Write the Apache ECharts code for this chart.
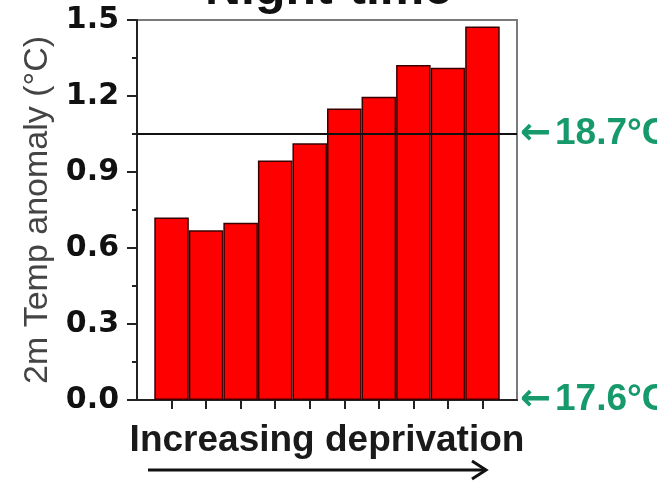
<!DOCTYPE html>
<html>
<head>
<meta charset="utf-8">
<script src="https://cdn.jsdelivr.net/npm/echarts@6/dist/echarts.min.js"></script>
<style>html,body{margin:0;padding:0;background:#fff}#c{width:657px;height:487px}</style>
</head>
<body>
<div id="c"></div>
<script>
// ---- data ----
const groups = [1, 2, 3, 4, 5, 6, 7, 8, 9, 10];
const anomaly = [0.72, 0.67, 0.70, 0.945, 1.013, 1.151, 1.197, 1.322, 1.312, 1.474];
const refValues = [1.054, 0];
const refLabels = ['18.7\u00b0C', '17.6\u00b0C'];
const yTicks = [0, 0.3, 0.6, 0.9, 1.2, 1.5];
const titleText = 'Night-time';
const yName = '2m Temp anomaly (\u00b0C)';
const xName = 'Increasing deprivation';

const chart = echarts.init(document.getElementById('c'), null, {renderer: 'canvas'});
const FONT = 'Liberation Sans, Arial, sans-serif';
const DJ = 'DejaVu Sans, sans-serif';
const green = '#179a6b';
const gridL = 137, gridR = 140, gridT = 20, gridB = 87;
const plotW = 657 - gridL - gridR;
const xMin = 0, xMax = groups.length + 1;
const bandW = plotW / (xMax - xMin);

const option = {
  backgroundColor: '#fff',
  animation: false,
  grid: {left: gridL, right: gridR, top: gridT, bottom: gridB, show: true, borderColor: '#7a7a7a', borderWidth: 2},
  xAxis: {
    type: 'value', min: xMin, max: xMax, interval: 1,
    name: xName, nameLocation: 'middle', nameGap: 22,
    nameTextStyle: {fontFamily: FONT, fontWeight: 'bold', fontSize: 37, color: '#1a1a1a', verticalAlign: 'top'},
    axisLine: {show: true, onZero: false, lineStyle: {color: '#222', width: 2}},
    axisTick: {show: true, inside: false, length: 9, customValues: groups, lineStyle: {color: '#222', width: 2}},
    axisLabel: {show: false},
    splitLine: {show: false}
  },
  yAxis: {
    type: 'value', min: yTicks[0], max: yTicks[yTicks.length - 1], interval: 0.3,
    name: yName, nameLocation: 'middle', nameGap: 78, nameRotate: 90,
    nameTextStyle: {fontFamily: FONT, fontSize: 34, color: '#444'},
    axisLine: {show: true, lineStyle: {color: '#222', width: 2}},
    axisTick: {show: true, inside: false, length: 10, lineStyle: {color: '#222', width: 2}},
    minorTick: {show: true, splitNumber: 2, length: 5, lineStyle: {color: '#222', width: 2}},
    axisLabel: {fontFamily: DJ, fontWeight: 'bold', fontSize: 30, color: '#111', margin: 18,
      formatter: v => v.toFixed(1)},
    splitLine: {show: false}
  },
  series: [{
    type: 'bar',
    data: groups.map((g, i) => [g, anomaly[i]]),
    barWidth: bandW,
    itemStyle: {color: '#ff0000', borderColor: '#3a0000', borderWidth: 1.5},
    markLine: {
      silent: true, symbol: 'none', animation: false,
      data: refValues.map((v, i) => ({
        yAxis: v,
        lineStyle: i === 0 ? {color: '#111', width: 2, type: 'solid'} : {color: 'rgba(0,0,0,0)', width: 0},
        label: {show: true, position: 'end', distance: 3, formatter: '{a|\u2190}{b|' + refLabels[i] + '}',
          rich: {
            a: {fontFamily: DJ, fontWeight: 'bold', fontSize: 37, color: green, padding: [0, 4, 0, 0]},
            b: {fontFamily: FONT, fontWeight: 'bold', fontSize: 37, color: green}
          }}
      }))
    }
  }],
  graphic: [
    {type: 'text', left: 'center', top: -35, style: {text: titleText, font: 'bold 50px ' + FONT, fill: '#111'}},
    {type: 'line', shape: {x1: 148, y1: 470, x2: 484, y2: 470}, style: {stroke: '#111', lineWidth: 3}},
    {type: 'polyline', shape: {points: [[472, 461], [486, 470], [472, 479]]}, style: {stroke: '#111', lineWidth: 3, fill: null}}
  ]
};
chart.setOption(option);
</script>
</body>
</html>
